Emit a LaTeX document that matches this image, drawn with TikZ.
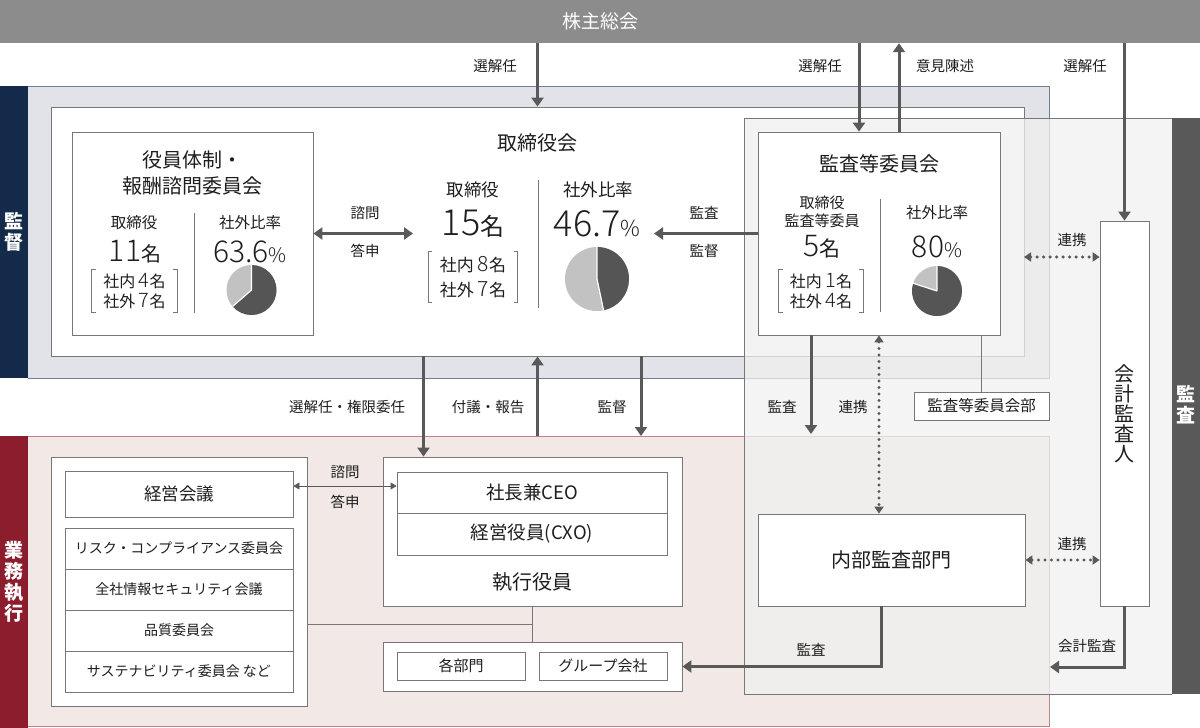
\documentclass[tikz,border=0pt]{standalone}
\usepackage{fontspec}
\setmainfont{Noto Sans CJK JP}
\newfontfamily\thinnum{Noto Sans CJK JP}[UprightFont=* Light]
\usetikzlibrary{arrows.meta}
\definecolor{kabug}{HTML}{8C8C8C}
\definecolor{kannavy}{HTML}{132A4A}
\definecolor{kanbg}{HTML}{E1E3E8}
\definecolor{exred}{HTML}{8C1D2D}
\definecolor{exbg}{HTML}{F2E9E6}
\definecolor{audbg}{HTML}{F0F0F0}
\definecolor{auddark}{HTML}{595959}
\definecolor{arrg}{HTML}{595959}
\definecolor{lineg}{HTML}{777777}
\definecolor{piedark}{HTML}{555555}
\definecolor{pielight}{HTML}{C2C2C2}
\definecolor{txtg}{HTML}{1E1E1E}
\newcommand{\fs}[1]{\fontsize{#1}{#1}\selectfont}
\newcommand{\fsb}[2]{\fontsize{#1}{#2}\selectfont}
\newcommand{\mei}[1]{{\rmfamily\fs{#1}名}}
% pie of the outside ratio: center, radius, share
\newcommand{\ratiopie}[3]{%
  \fill[pielight] (#1) circle[radius=#2];
  \fill[piedark] (#1) -- ++(90:#2) arc[start angle=90, delta angle={-3.6*#3}, radius=#2] -- cycle;
  \draw[white, line width=1.2pt] (#1) -- ++(90:#2) (#1) -- ++({90-3.6*#3}:#2);
}
% square brackets round a node
\newcommand{\brk}[1]{%
  \draw[lineg, line width=0.7pt] ([xshift=4pt]#1.north west) -- (#1.north west) -- (#1.south west) -- ([xshift=4pt]#1.south west)
    ([xshift=-4pt]#1.north east) -- (#1.north east) -- (#1.south east) -- ([xshift=-4pt]#1.south east);
}
\tikzset{
  box/.style={draw=lineg, line width=0.8pt, fill=white, inner sep=0pt, text=txtg},
  arr/.style={draw=arrg, line width=3pt, -{Triangle[width=12pt,length=9pt]}},
  dblarr/.style={draw=arrg, line width=3pt, {Triangle[width=12pt,length=9pt]}-{Triangle[width=12pt,length=9pt]}},
  dotarr/.style={draw=arrg, line width=3.4pt, dash pattern=on 0pt off 6.5pt, line cap=round, {Triangle[width=9pt,length=7pt]}-{Triangle[width=9pt,length=7pt]}},
  thinarr/.style={draw=arrg, line width=0.8pt, {Triangle[width=7pt,length=6pt]}-{Triangle[width=7pt,length=6pt]}},
  lbl/.style={font=\fs{14.5}, text=txtg, inner sep=0pt},
  txt/.style={text=txtg, inner sep=0pt, align=center},
  strip/.style={text=white, font=\fsb{19}{21}\bfseries, align=center, inner sep=0pt},
  conn/.style={draw=lineg, line width=0.8pt},
}

\begin{document}
\begin{tikzpicture}[x=1pt, y=-1pt]
    \useasboundingbox (0,0) rectangle (1200,728);

    % shareholders bar
    \node[fill=kabug, minimum width=1200pt, minimum height=43pt, inner sep=0pt, text=white, font=\fs{19}] (kabu) at (600,21.5) {株主総会};

    % supervision band
    \fill[kanbg] (28,86) rectangle (1049,378);
    \draw[kannavy!60, line width=0.8pt] (28,86) -- (1049,86) -- (1049,378) -- (28,378);
    \fill[kannavy] (0,86) rectangle (28,378);
    \node[strip] (kantoku) at (14,232) {監\\督};
    \node[box, minimum width=973pt, minimum height=249pt] (tb) at (537.5,231.5) {};

    % execution band
    \fill[exbg] (28,436) rectangle (1049,726);
    \draw[exred!55, line width=0.8pt] (28,436) -- (1049,436) -- (1049,726) -- (28,726);
    \fill[exred] (0,436) rectangle (28,728);
    \node[strip] (gyomu) at (14,582) {業\\務\\執\\行};

    % audit band
    \fill[audbg, fill opacity=0.75] (744,118) rectangle (1172,694);
    \draw[lineg, line width=0.8pt] (1172,118) -- (744,118) -- (744,694) -- (1172,694);
    \fill[auddark] (1172,118) rectangle (1200,694);
    \node[strip] (kansa) at (1186,405) {監\\査};

    % board of directors
    \node[txt, font=\fs{20}] (tbt) at (537.5,143) {取締役会};
    \node[txt, font=\fs{17.5}] (tbd) at (473,190) {取締役};
    \node[txt, font=\fs{36}\thinnum] (tbn) at (473,224) {15\mei{24}};
    \node[txt, font=\fsb{17}{25}, minimum width=89pt, minimum height=50pt] (tbb) at (473,277) {社内 {\fs{21}\thinnum 8}名\\社外 {\fs{21}\thinnum 7}名};
    \brk{tbb}
    \draw[lineg, line width=0.8pt] (538,180) -- (538,308);
    \node[txt, font=\fs{17.5}] (tbr) at (598,190) {社外比率};
    \node[txt, font=\fs{36}\thinnum] (tbp) at (597,224) {46.7{\fs{22}\%}};
    \ratiopie{597pt,-279pt}{32pt}{46.7}

    % nomination committee
    \node[box, minimum width=241pt, minimum height=203pt] (yk) at (192.5,233.5) {};
    \node[txt, font=\fsb{20}{26}] (ykt) at (192.5,173) {役員体制・\\報酬諮問委員会};
    \node[txt, font=\fs{15.5}] (ykd) at (134,223) {取締役};
    \node[txt, font=\fs{30}\thinnum] (ykn) at (135,252) {11\mei{20}};
    \node[txt, font=\fsb{16}{20}, minimum width=85pt, minimum height=42pt] (ykb) at (134.5,291) {社内 {\fs{20}\thinnum 4}名\\社外 {\fs{20}\thinnum 7}名};
    \brk{ykb}
    \draw[lineg, line width=0.8pt] (194,213) -- (194,313);
    \node[txt, font=\fs{15.5}] (ykr) at (250,223) {社外比率};
    \node[txt, font=\fs{30}\thinnum] (ykp) at (250,252) {63.6{\fs{20}\%}};
    \ratiopie{251.5pt,-290pt}{25pt}{63.6}

    % audit and supervisory committee
    \node[box, minimum width=242pt, minimum height=203pt] (ac) at (879,233.5) {};
    \node[txt, font=\fs{20}] (act) at (879,164) {監査等委員会};
    \node[txt, font=\fsb{15}{18}] (acd) at (822,212) {取締役\\監査等委員};
    \node[txt, font=\fs{30}\thinnum] (acn) at (822,247) {5\mei{21}};
    \node[txt, font=\fsb{16}{20}, minimum width=84pt, minimum height=42pt] (acbk) at (821,291) {社内 {\fs{20}\thinnum 1}名\\社外 {\fs{20}\thinnum 4}名};
    \brk{acbk}
    \draw[lineg, line width=0.8pt] (880,199) -- (880,312);
    \node[txt, font=\fs{15.5}] (acr) at (937,213) {社外比率};
    \node[txt, font=\fs{30}\thinnum] (acp) at (937,247) {80{\fs{20}\%}};
    \ratiopie{937pt,-291pt}{25pt}{80}

    % auditors
    \node[box, font=\fsb{20}{20}, align=center, minimum width=49pt, minimum height=385pt] (ka) at (1124.5,413.5) {会\\計\\監\\査\\人};
    \node[box, font=\fs{20}, minimum width=267pt, minimum height=92pt] (na) at (891.5,560) {内部監査部門};
    \node[box, font=\fs{15.5}, minimum width=135pt, minimum height=28pt] (acb) at (981.5,406) {監査等委員会部};

    % meetings and committees
    \node[box, minimum width=256pt, minimum height=249pt] (kb) at (179,581.5) {};
    \node[box, font=\fs{17.5}, minimum width=228pt, minimum height=46pt] (keiei) at (179,494) {経営会議};
    \node[box, font=\fs{14}, minimum width=228pt, minimum height=41pt] (c1) at (179,548.5) {リスク・コンプライアンス委員会};
    \node[box, font=\fs{14}, minimum width=228pt, minimum height=41pt] (c2) at (179,589.5) {全社情報セキュリティ会議};
    \node[box, font=\fs{14}, minimum width=228pt, minimum height=41pt] (c3) at (179,630.5) {品質委員会};
    \node[box, font=\fs{14}, minimum width=228pt, minimum height=41pt] (c4) at (179,671.5) {サステナビリティ委員会 など};

    % executive officers
    \node[box, minimum width=299pt, minimum height=149pt] (sy) at (532.5,531.5) {};
    \node[box, font=\fs{18.5}, minimum width=270pt, minimum height=41pt] (ceo) at (532,492.5) {社長兼CEO};
    \node[box, font=\fs{18.5}, minimum width=270pt, minimum height=42pt] (cxo) at (532,534) {経営役員(CXO)};
    \node[txt, font=\fs{20}] (syt) at (532.5,582) {執行役員};
    \node[box, minimum width=299pt, minimum height=49pt] (bm) at (532.5,666.5) {};
    \node[box, font=\fs{15}, minimum width=128pt, minimum height=28pt] (kakubu) at (461,666) {各部門};
    \node[box, font=\fs{15}, minimum width=128pt, minimum height=28pt] (group) at (603,666) {グループ会社};

    % shareholders arrows
    \draw[arr] (kabu.south -| tb.north) -- (tb.north);
    \node[lbl] (l1) at (495,66) {選解任};
    \draw[arr] (kabu.south -| ac.north) ++(-20pt,0) -- ([xshift=-20pt]ac.north);
    \node[lbl] (l2) at (820,66) {選解任};
    \draw[arr] ([xshift=20pt]ac.north) -- ([xshift=20pt]ac.north |- kabu.south);
    \node[lbl] (l3) at (945,66) {意見陳述};
    \draw[arr] (kabu.south -| ka.north) -- (ka.north);
    \node[lbl] (l4) at (1085,66) {選解任};

    % inside the board
    \coordinate (tbc) at (413,233.5);
    \draw[dblarr] (yk.east) -- (tbc);
    \node[lbl] (l5) at (365,213) {諮問};
    \node[lbl] (l6) at (365,251) {答申};
    \coordinate (tbe) at (654,233.5);
    \draw[arr] (ac.west) -- (tbe);
    \node[lbl] (l7) at (704,213) {監査};
    \node[lbl] (l8) at (704,251) {監督};

    % cooperation with auditors
    \coordinate (dA) at (1024,257);
    \draw[dotarr] (dA) -- (dA -| ka.west);
    \node[lbl] (l9) at (1072,240) {連携};
    \draw[dotarr] (na.east) -- (na.east -| ka.west);
    \node[lbl] (l10) at (1072,544) {連携};

    % below the committee
    \coordinate (et1) at (811,434);
    \draw[arr] (ac.south -| et1) -- (et1);
    \node[lbl] (l11) at (782,407) {監査};
    \draw[dotarr] (ac.south) -- (ac.south |- na.north);
    \node[lbl] (l12) at (853,407) {連携};
    \draw[conn] (acb.north |- ac.south) -- (acb.north);
    \draw[arr] ([xshift=2pt]ac.south |- na.south) -- ([xshift=2pt]ac.south |- bm.east) -- (bm.east);
    \node[lbl] (l13) at (811,650) {監査};
    \coordinate (er) at (1050,667);
    \draw[arr] (ka.south) |- (er);
    \node[lbl] (l14) at (1087,646) {会計監査};

    % board to execution
    \coordinate (exT) at (537.5,436);
    \draw[arr] ([xshift=-114pt]tb.south) -- ([xshift=-114pt]tb.south |- sy.north);
    \node[lbl] (l15) at (347,407) {選解任・権限委任};
    \draw[arr] (tb.south |- exT) -- (tb.south);
    \node[lbl] (l16) at (488,407) {付議・報告};
    \draw[arr] ([xshift=103.5pt]tb.south) -- ([xshift=103.5pt]tb.south |- exT);
    \node[lbl] (l17) at (612,407) {監督};

    % execution side
    \coordinate (kq) at (0,486);
    \draw[thinarr] (keiei.east |- kq) -- (ceo.west |- kq);
    \node[lbl] (l18) at (345,472) {諮問};
    \node[lbl] (l19) at (345,502) {答申};
    \coordinate (hj) at (0,624);
    \draw[conn] (sy.south) -- (bm.north);
    \draw[conn] (kb.east |- hj) -- (sy.south |- hj);
\end{tikzpicture}
\end{document}
